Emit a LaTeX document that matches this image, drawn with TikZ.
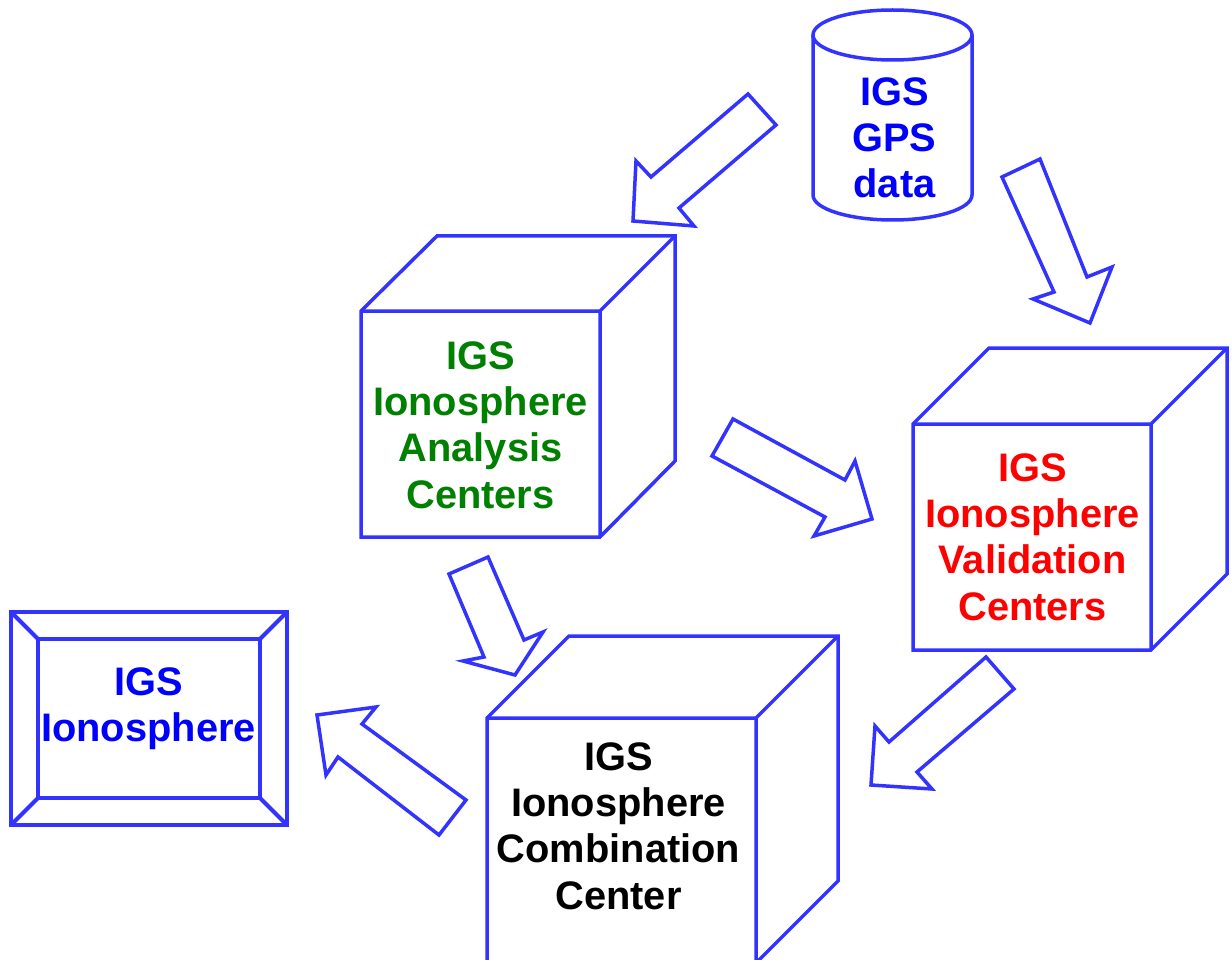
\documentclass[tikz,border=0pt]{standalone}
\usepackage{fontspec}
\setmainfont{Liberation Sans}
\definecolor{lineblue}{RGB}{51,51,255}
\definecolor{txtblue}{RGB}{0,0,255}
\definecolor{txtgreen}{RGB}{0,128,0}
\definecolor{txtred}{RGB}{255,0,0}
\tikzset{
  outline/.style={draw=lineblue,line width=3.5pt,line join=miter,fill=white},
  blockarrow/.style={outline},
  label/.style={align=center,font=\fontsize{39.8}{46.3}\selectfont\bfseries,inner sep=0pt}
}
\begin{document}
\begin{tikzpicture}[x=1pt,y=-1pt]
\useasboundingbox (0,0) rectangle (1232,960);
\clip (0,0) rectangle (1232,960);
% cylinder
\draw[outline] (813,35) -- (813,195) arc[start angle=180,end angle=0,x radius=79.5,y radius=25] -- (972,35);
\draw[outline] (892.5,35) ellipse[x radius=79.5,y radius=25];
% cubes
\draw[outline] (361,311) -- (437,236) -- (675,236) -- (675,461) -- (600,537) -- (361,537) -- cycle;
\draw[outline,fill=none] (361,311) -- (600,311) -- (675,236) (600,311) -- (600,537);
\draw[outline] (913,424) -- (989,348) -- (1227,348) -- (1227,574) -- (1151,650) -- (913,650) -- cycle;
\draw[outline,fill=none] (913,424) -- (1151,424) -- (1227,348) (1151,424) -- (1151,650);
\draw[outline] (487,718) -- (569,636) -- (838,636) -- (838,881) -- (756,963) -- (487,963) -- cycle;
\draw[outline,fill=none] (487,718) -- (756,718) -- (838,636) (756,718) -- (756,963);
% frame
\draw[outline,line width=4.2pt] (11,612) rectangle (287,825);
\draw[outline,line width=4.2pt] (38,639) rectangle (260,798);
\draw[outline,line width=4.2pt,fill=none] (11,612) -- (38,639) (287,612) -- (260,639) (11,825) -- (38,798) (287,825) -- (260,798);
% block arrows
\draw[blockarrow] (748,94) -- (776,125) -- (679,208) -- (694,226) -- (633,221) -- (636,161) -- (651,177) -- cycle;
\draw[blockarrow] (1002,177) -- (1040,159) -- (1087,277) -- (1112,267) -- (1090,323) -- (1033,299) -- (1054,292) -- cycle;
\draw[blockarrow] (733,419) -- (712,456) -- (825,517) -- (814,536) -- (872,519) -- (855,461) -- (845,480) -- cycle;
\draw[blockarrow] (449,574) -- (488,557) -- (524,640) -- (543,632) -- (515,675) -- (463,661) -- (484,657) -- cycle;
\draw[blockarrow] (986,657) -- (1014,689) -- (917,772) -- (932,789) -- (871,785) -- (875,726) -- (889,742) -- cycle;
\draw[blockarrow] (466,800) -- (439,835) -- (338,757) -- (326,775) -- (317,715) -- (376,707) -- (362,724) -- cycle;
% labels
\node[label,text=txtblue] (gps) at (894.5,138) {IGS\\GPS\\data};
\node[label,text=txtgreen] (ac) at (480.5,425) {IGS\\Ionosphere\\Analysis\\Centers};
\node[label,text=txtred] (vc) at (1032.5,537) {IGS\\Ionosphere\\Validation\\Centers};
\node[label,text=black] (cc) at (618.5,826) {IGS\\Ionosphere\\Combination\\Center};
\node[label,text=txtblue] (ion) at (148.5,709) {IGS\\Ionosphere};
\end{tikzpicture}
\end{document}
